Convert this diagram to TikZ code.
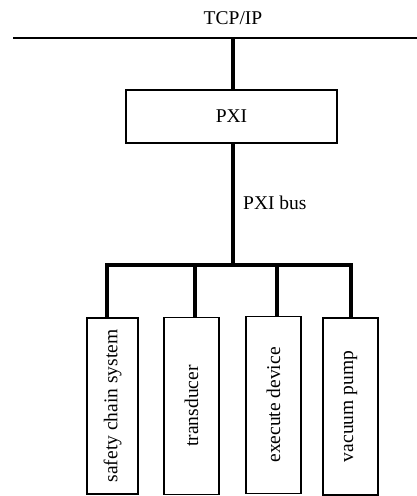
\documentclass[tikz,border=0pt]{standalone}
\usepackage{fontspec}
\setmainfont{Liberation Serif}
\usetikzlibrary{positioning}

\begin{document}
\begin{tikzpicture}[x=1pt,y=1pt,
		label font/.style={font=\fontsize{19.5}{23}\selectfont},
		thin box/.style={draw,line width=1.5pt,inner sep=0pt,label font},
		unit box/.style={thin box,minimum width=55pt,minimum height=177pt},
		bus line/.style={line width=4pt}]
		\useasboundingbox (0,0) rectangle (417,496);

		\coordinate (net0) at (13,458);
		\coordinate (net1) at (417,458);
		\draw[line width=1.5pt] (net0) -- (net1);
		\node[label font,anchor=base] (tcp) at (233,471) {TCP/IP};

		\node[thin box,minimum width=211pt,minimum height=53pt] (pxi) at (231.5,379.5) {PXI};
		\draw[bus line] (pxi.north -| 233,0) -- (233,458);

		\coordinate (tap0) at (233,231);
		\draw[bus line] (pxi.south -| tap0) -- (tap0);
		\node[label font,anchor=base west,inner sep=0pt] (pxibus) at (243,286) {PXI bus};

		% the four units
		\node[unit box,minimum width=51pt,minimum height=176pt] (s1) at (112.5,90) {\rotatebox{90}{safety chain system}};
		\node[unit box] (s2) at (191.5,90) {\rotatebox{90}{transducer}};
		\node[unit box] (s3) at (273.5,91) {\rotatebox{90}{execute device}};
		\node[unit box] (s4) at (350.5,89.5) {\rotatebox{90}{vacuum pump}};

		\coordinate (tap1) at (107,231);
		\coordinate (tap2) at (195,231);
		\coordinate (tap3) at (277,231);
		\coordinate (tap4) at (351,231);
		\draw[bus line] (s1.north -| tap1) -- (tap1) -- (tap4) -- (s4.north -| tap4);
		\draw[bus line] (tap2) -- (s2.north -| tap2);
		\draw[bus line] (tap3) -- (s3.north -| tap3);
	\end{tikzpicture}
\end{document}
